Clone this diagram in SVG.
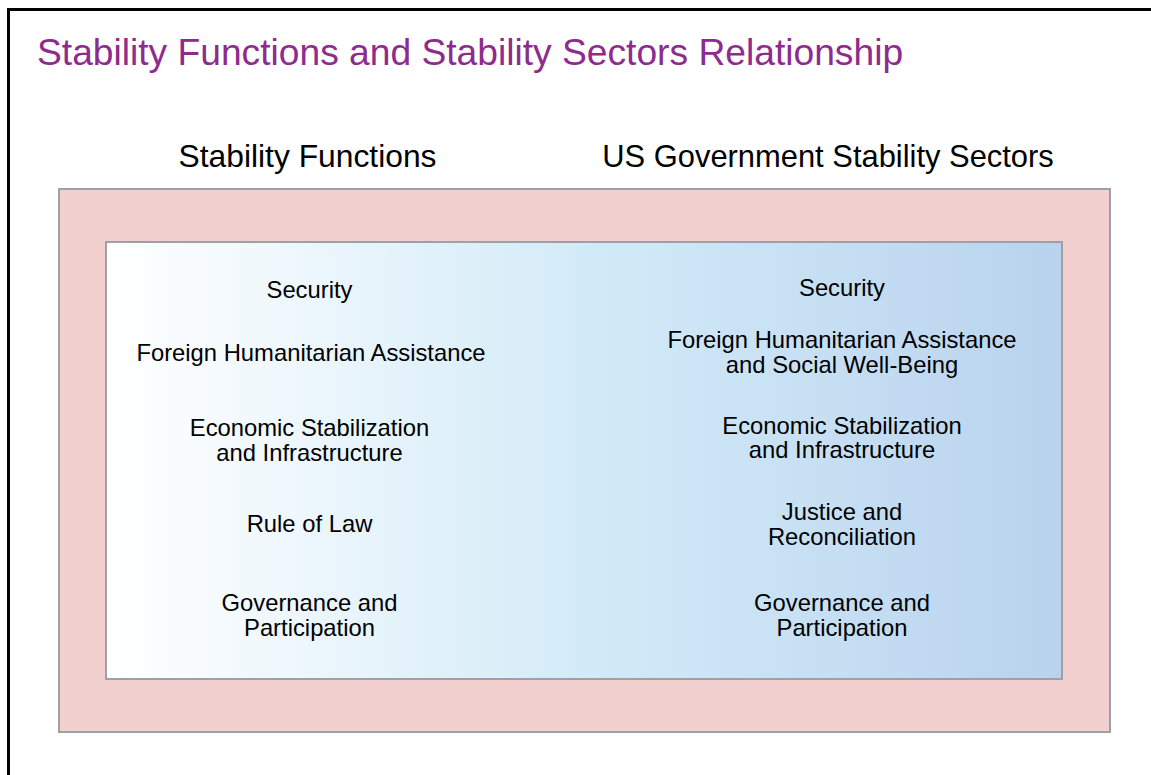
<svg xmlns="http://www.w3.org/2000/svg" width="1151" height="775" viewBox="0 0 1151 775">
  <defs>
    <linearGradient id="blueGrad" x1="0" y1="0" x2="1" y2="0">
      <stop offset="0" stop-color="#ffffff"/>
      <stop offset="0.5" stop-color="#d3ebf8"/>
      <stop offset="1" stop-color="#b9d3ee"/>
    </linearGradient>
  </defs>
  <style>
    .frame { fill: #ffffff; stroke: #000000; stroke-width: 3; }
    .title { font-family: "Liberation Sans", Arial, sans-serif; font-size: 37.2px; fill: #8d2b8e; }
    .head { font-family: "Liberation Sans", Arial, sans-serif; font-size: 31.3px; fill: #000000; text-anchor: middle; }
    .item { font-family: "Liberation Sans", Arial, sans-serif; font-size: 23.8px; fill: #000000; text-anchor: middle; }
    .outer { fill: #f2d0cf; stroke: #a0a0a4; stroke-width: 2; }
    .inner { fill: url(#blueGrad); stroke: #a0a0a4; stroke-width: 2; }
  </style>
  <rect x="0" y="0" width="1151" height="775" fill="#ffffff"/>
  <rect class="frame" x="8.5" y="9.5" width="1160" height="790"/>
  <g id="title">
    <text class="title" x="37" y="65">Stability Functions and Stability Sectors Relationship</text>
  </g>
  <g id="headings">
    <text class="head" x="307.5" y="167" style="font-size:31.8px">Stability Functions</text>
    <text class="head" x="828" y="167" style="font-size:30.9px">US Government Stability Sectors</text>
  </g>
  <g id="outer-box">
    <rect class="outer" x="59" y="189" width="1051" height="543"/>
  </g>
  <g id="inner-box">
    <rect class="inner" x="106" y="242" width="956" height="437"/>
  </g>
  <g id="connectors"></g>
  <g id="functions">
    <g id="f-security"><text class="item" x="309.5" y="298">Security</text></g>
    <g id="f-fha"><text class="item" x="311" y="361">Foreign Humanitarian Assistance</text></g>
    <g id="f-econ"><text class="item" x="309.5" y="436">Economic Stabilization</text><text class="item" x="309.5" y="460.5">and Infrastructure</text></g>
    <g id="f-law"><text class="item" x="309.5" y="532">Rule of Law</text></g>
    <g id="f-gov"><text class="item" x="309.5" y="611">Governance and</text><text class="item" x="309.5" y="635.5">Participation</text></g>
  </g>
  <g id="sectors">
    <g id="s-security"><text class="item" x="842" y="296">Security</text></g>
    <g id="s-fha"><text class="item" x="842" y="348">Foreign Humanitarian Assistance</text><text class="item" x="842" y="372.5">and Social Well-Being</text></g>
    <g id="s-econ"><text class="item" x="842" y="433.5">Economic Stabilization</text><text class="item" x="842" y="458">and Infrastructure</text></g>
    <g id="s-justice"><text class="item" x="842" y="520">Justice and</text><text class="item" x="842" y="544.5">Reconciliation</text></g>
    <g id="s-gov"><text class="item" x="842" y="611">Governance and</text><text class="item" x="842" y="635.5">Participation</text></g>
  </g>
</svg>
